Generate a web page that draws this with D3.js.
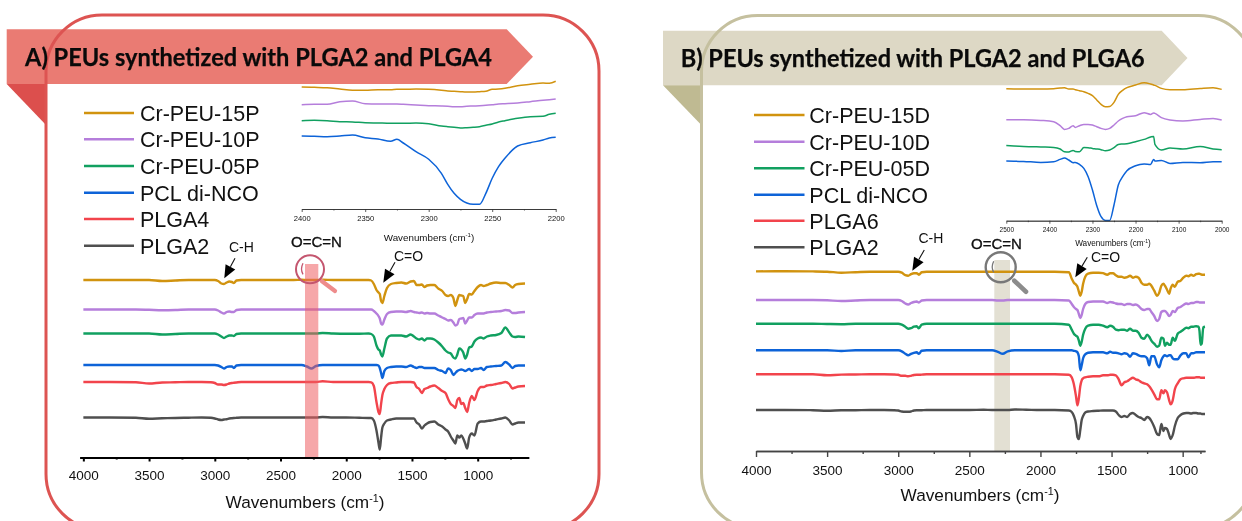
<!DOCTYPE html>
<html>
<head>
<meta charset="utf-8">
<script src="https://cdnjs.cloudflare.com/ajax/libs/d3/7.8.5/d3.min.js"></script>
<style>
  html, body { margin: 0; padding: 0; background: #fff; overflow: hidden; }
  svg { display: block; filter: blur(0.45px); }
  text { font-family: "Liberation Sans", Arial, sans-serif; fill: #111; }
  .title { font-family: Lato, sans-serif; font-weight: 700; fill: #0a0a0a; stroke: #0a0a0a; stroke-width: 0.25; }
</style>
</head>
<body>
<svg id="chart" width="1242" height="521"></svg>
<script>
// ---- data. Spectra are relative to their own baseline (a.u.)
var colors15 = "#d1930f", colors10 = "#b57edb", colors05 = "#11a060",
    colorsPcl = "#0d63d8", colorsLow = "#f2444c", colorsPlga2 = "#4f4f4f";

var mainTicks = [4000, 3500, 3000, 2500, 2000, 1500, 1000],
    minorTicksA = [3750, 3250, 2750, 2250, 1750, 1250, 750],
    minorTicksB = [3750, 3250, 2750, 2250, 1750, 1250, 875];

// panel A
var namesA = ["Cr-PEU-15P", "Cr-PEU-10P", "Cr-PEU-05P", "PCL di-NCO", "PLGA4", "PLGA2"];
var offsetsA = [177.5, 148, 124, 92.5, 75.5, 40];
var waveA = [
  4000,3800,3600,3500,3400,3300,3200,3100,3030,3000,
  2975,2950,2930,2910,2890,2870,2855,2835,2800,2700,
  2500,2400,2340,2300,2265,2230,2180,2100,2000,1900,
  1830,1810,1790,1770,1755,1745,1735,1725,1710,1690,
  1660,1620,1580,1545,1510,1485,1465,1445,1425,1405,
  1385,1360,1330,1300,1270,1245,1225,1205,1185,1170,
  1155,1140,1125,1110,1095,1080,1065,1045,1025,1000,
  975,955,930,900,860,820,790,760,735,715,
  690,640];
var a15P = [
  0,0,0,0,-1,-0.5,0,0,0,0,
  -1,-3.5,-4,-2.5,-1.5,-2,-3,-0.5,0,0,
  0,0,0.2,0,0,0,0.3,0,0,0,
  0,-0.5,-4,-10,-12.5,-14,-21,-23,-16,-8,
  -4,-3,-2.5,-3.5,-1.5,-1,-5,-5,-4.5,-7,
  -5.5,-5,-5,-8.5,-11,-15,-16,-15,-18,-26,
  -20,-15,-15.5,-16,-23,-19,-14,-14.5,-11,-7,
  -5,-6,-5,-3.5,-2.5,-3,-3,-5,-7.5,-5,
  -4,-3.5];
var a10P = [
  0,0,0,-0.3,-0.7,-0.5,0,0,0,0,
  -1,-3,-4,-2.5,-2,-2.5,-2.5,-0.5,0,0,
  0,0,0,0,0,0,0,0,0,0,
  0,0,-1.5,-4,-6.5,-9,-14,-15,-10,-4.5,
  -2.5,-2,-2,-2.5,-1.5,-2.5,-3,-3.5,-3,-4,
  -3.5,-4,-4,-6,-8,-9.5,-11,-10.5,-13,-16,
  -15,-9.5,-9,-8.5,-14,-11,-8,-8,-5.5,-4,
  -4,-4,-3,-2.5,-2,-1.5,-0.5,-1,-3.5,-3.5,
  -3,-2.5];
var a05P = [
  0,0,0,0,-1,-0.5,0,0,0,0,
  -1,-3,-4.5,-3,-2,-2,-2.5,-0.5,0,0,
  0,0,0,0,0,0,0.5,0,-0.3,-0.3,
  0,-0.5,-3,-12,-16,-17,-21,-23,-15,-5,
  -2,-2,-2,-3,-1,-3,-5,-6,-5,-7,
  -5,-5,-6,-9,-13,-17,-19,-20,-24,-25,
  -21,-15,-16,-19,-25,-21,-14,-13,-8,-5,
  -4,-5,-3,-2,-1.5,0.5,6,1,-3,-3.5,
  -3,-3.5];
var aPcl = [
  0,0,0,0,0,0,0,0,0,0,
  -0.5,-2,-3.5,-2,-1.5,-1.5,-3,-0.5,0,0,
  0,0,0,-1.5,-3.5,-1,0,0,0,0,
  0,0,0,0,-0.5,-3,-8,-13,-6,-3,
  -2,-1.5,-1.5,-2,-0.5,-2,-3,-2,-2,-3,
  -3,-3,-3,-5,-6,-8,-3.5,-5,-10,-8,
  -6,-5,-4.5,-5,-6,-5,-4,-6,-4,-4,
  -3,-5,-2,-1.5,-1,-0.5,3,0.5,-3,-1,
  -0.5,-0.5];
var aPlga4 = [
  0,0,-0.3,-1.5,-0.5,-0.3,0,0,-0.3,-1,
  -2.5,-2.5,-3,-2.5,-1.5,-1,-0.8,-0.5,0,0,
  0,0,0,0,0,0,0.7,0,0,0,
  0,-0.3,-4,-20,-30,-32,-22,-13,-7,-3,
  -1,-0.5,0,0,0,-0.5,-5,-7,-11,-7,
  -6,-4.5,-3.5,-6,-9,-11,-17,-22,-24,-26,
  -18,-16,-22,-21,-26,-30,-21,-14,-18,-9,
  -5,-5,-3.5,-3,-2,-1,0,-2,-6.5,-5.5,
  -4.5,-4];
var aPlga2 = [
  0,0,-0.3,-1.3,-0.8,-0.5,-0.2,0,-0.3,-1,
  -2,-2.5,-2,-1.7,-1,-0.7,-0.5,-0.3,0,0,
  0,0,0,0,0,0,0.5,0,0,-0.3,
  -0.5,-0.5,-3,-13,-25,-32,-20,-10,-6,-3,
  -2,-1,-1,-1,-1,-1,-5,-7,-11,-8,
  -6,-4.5,-4,-7,-9,-12,-14,-19,-23,-26,
  -18,-20,-18,-21,-26,-31,-20,-16,-18,-6,
  -4,-4,-3.5,-3,-2,-1,0,-3,-7,-6,
  -5,-5];

// panel A inset (2400-2200)
var insetTicksA = [2400, 2350, 2300, 2250, 2200], insetMinorA = [2375, 2325, 2275, 2225];
var insetWaveA = [2400,2390,2380,2370,2360,2350,2340,2330,2325,2320,2310,2300,2290,2285,
  2280,2275,2270,2265,2260,2255,2250,2245,2240,2230,2220,2210,2205,2200];
var inA15 = [122,121.7,121.3,120,118.7,118.7,119.3,119.3,119.7,119.7,120,119.7,118.7,118,
  117.7,117.3,117,117,117.3,117.7,119.7,120,120.7,123.3,124.7,126,125.7,127.7];
var inA10 = [104.3,104.7,104.7,107.3,108,105.3,105,105,105,104.7,104,103.3,103,102.7,
  102.3,102.3,102.7,103,103.3,103.7,104.3,105,105.3,106,107.3,108.7,109.3,110];
var inA05 = [88.3,88.7,88.3,87.3,87,86.3,86,85.7,85.7,85.7,86,85.3,83,82.3,
  81.7,81,81.3,81.7,82.3,83.7,85,87,88.3,90.7,92.3,92.7,94.7,95.7];
var inAPcl = [73,72.7,72.3,73,74,71.3,70,67.7,69.7,66,57.3,49.7,35.7,24.7,
  15.7,9.7,6,4.7,4.7,15.7,30.7,42.3,50.7,63,66.3,69,71,71.7];

// panel B
var namesB = ["Cr-PEU-15D", "Cr-PEU-10D", "Cr-PEU-05D", "PCL di-NCO", "PLGA6", "PLGA2"];
var offsetsB = [179.3, 151, 127.3, 100.7, 76.7, 41];
var waveB = [
  4000,3800,3600,3500,3400,3300,3200,3100,3030,3000,
  2975,2950,2930,2910,2890,2870,2855,2835,2800,2700,
  2500,2400,2340,2300,2265,2230,2180,2100,2000,1900,
  1800,1780,1765,1750,1740,1730,1720,1710,1700,1685,
  1665,1630,1590,1560,1530,1510,1490,1470,1450,1430,
  1410,1390,1370,1350,1330,1310,1290,1270,1250,1235,
  1220,1200,1180,1165,1150,1135,1125,1110,1095,1085,
  1070,1055,1035,1015,995,975,960,940,925,905,
  890,882,874,866,855,843];
var b15D = [
  0.3,0.5,0.3,0,-1,-0.5,0,0,0,0,
  -1,-3.5,-4,-2.5,-1.5,-1.5,-3,-0.5,0,0,
  0,0,0,0,0,0,0,0,0,0,
  -0.5,-7,-11,-13,-15,-20,-24,-20,-12,-5,
  -2,-1,-1,-1.5,-3,-1.5,-1.5,-3.5,-5,-5,
  -6,-5.5,-4,-6,-5,-6,-11,-13,-13,-12,
  -14,-19,-24,-21,-14,-12,-14,-18,-22,-17,
  -13,-15,-10,-9,-6,-4,-4.5,-3,-4,-2.5,
  -2,-2,-2.5,-3,-3,-3];
var b10D = [
  0,0,0,-0.3,-1,-0.5,0,0,0,0,
  -1,-3.5,-4.5,-3,-2,-1.5,-2.5,-0.5,0,0,
  0,0,0,-0.5,-0.5,0,0,0,0,0,
  -0.5,-4,-7,-9,-10,-14,-18,-15,-9,-4,
  -2,-1.5,-1.5,-1.5,-3,-2,-2.5,-3.5,-4,-4,
  -5,-4,-4,-5,-4.5,-6,-9,-10,-9,-9,
  -12,-16,-21,-19,-12,-11,-11,-13,-16,-15,
  -11,-12,-8,-7,-5,-3.5,-4,-3,-3,-2,
  -2,-2.5,-2.5,-2.5,-2.5,-2.5];
var b05D = [
  0,0,0,-0.3,-0.5,0,0,0,0,0,
  -1,-3,-5,-4.5,-3,-2.5,-4.5,-1,0,0,
  0,0,0,0,0,0,0,0,0,0,
  -1,-6,-10,-12,-13,-17,-22,-18,-11,-5,
  -2,-1,-1,-2,-3.5,-2,-3,-6,-6.5,-6,
  -6,-7,-5,-7,-7,-9,-14,-15,-11,-13,
  -17,-20,-23,-22,-14,-15,-22,-19,-21,-21,
  -14,-17,-10,-8,-6,-4,-4.5,-3,-3,-2.5,
  -3,-7,-21,-20,-3.5,-3];
var bPcl = [
  0,0,0,0,-0.7,0,0,0,0,0,
  -1,-3.5,-5,-3.5,-2.5,-2,-3.5,-0.5,0,0,
  0,0,0,-1.5,-3.5,-1,0,0,0,0,
  0,0,-0.5,-1,-2,-6,-20,-15,-8,-4,
  -2.5,-2,-2,-2,-3,-1.5,-2.5,-2.5,-3,-4,
  -3,-3.5,-6.5,-3,-3.5,-5,-6,-6,-8,-15,
  -6,-6,-14,-17,-10,-6,-5,-6,-5,-5,
  -8,-9,-9,-5,-3,-3,-7,-3,-3,-2,
  -2,-2,-2,-2,-2,-2];
var bPlga6 = [
  0,0,0,-1,-0.3,-0.2,0,0,-0.2,-0.5,
  -1.5,-1.5,-2,-1.5,-0.7,-0.5,-0.5,-0.3,0,0,
  0,0,0,0,0,0,0,0,0,0,
  -0.5,-3,-10,-22,-31,-24,-12,-6,-4,-3,
  -2.5,-2,-2,-1,-1,-0.5,-0.5,-1,-5,-11,
  -8,-7,-5,-3.5,-5,-6,-8,-9,-10,-12,
  -15,-20,-25,-25,-16,-19,-16,-18,-26,-30,
  -26,-15,-9,-5,-4,-3.5,-3.5,-3.5,-3.5,-3,
  -3,-3,-3.5,-3.5,-3.5,-3.5];
var bPlga2 = [
  0,0,-0.2,-0.7,-0.3,-0.2,0,0,-0.2,-0.5,
  -1.5,-1.8,-1.8,-1.5,-0.5,-0.3,-0.3,-0.2,0,0,
  0,0.3,0,0,0,0,0.5,0.3,0,0,
  -0.5,-2,-6,-14,-27,-29,-20,-10,-6,-2.5,
  -1.5,-1,-0.7,-0.5,-0.5,-0.5,-0.5,-1.5,-5,-7,
  -6,-7,-4,-3,-5,-7,-8,-10,-7,-8,
  -11,-17,-24,-25,-14,-21,-18,-19,-25,-29,
  -25,-16,-8,-5,-3.5,-3,-3,-3.5,-3,-3,
  -3.5,-3.5,-3.5,-4,-4,-4];

// panel B inset (2500-2000)
var insetTicksB = [2500, 2400, 2300, 2200, 2100, 2000], insetMinorB = [2450, 2350, 2250, 2150, 2050];
var insetWaveB = [2500,2460,2420,2390,2375,2365,2355,2345,2340,2330,2320,2310,2300,2290,2280,2270,
  2260,2250,2240,2230,2220,2200,2180,2165,2158,2155,2140,2120,2090,2050,2020,2000];
var inB15 = [132,131.7,131.7,132,132.7,133,131.7,131.7,131,130,129,127.3,125,120.7,116.3,114,
  114.3,118.3,126.3,130.3,133,135.7,138,136.7,135.7,135.3,132.3,131,131,132.3,133,131.3];
var inB10 = [101,101,100.3,99,95,91.3,92.3,95,93.3,95,96.3,96.3,95.7,94,92.3,91.3,
  92.3,95.7,99.7,102.3,104,105,108,106.3,107.7,107.3,103,100.7,99.7,101.3,102.3,100.7];
var inB05 = [75.3,74.3,73.7,73.3,71.7,69,68.7,70.3,69.3,69,73.3,73,72.3,71.7,71,70,
  70.7,73,76.3,76.7,77,79,81.3,83.7,84.3,76.3,70.7,72.7,71.7,74.3,71.7,71];
var inBPcl = [59.7,59.3,58.3,59,61.3,62.7,60.7,58,58.3,56.3,52.3,44,30.7,15,4,0.3,
  0.3,15.7,35.7,44,50,55,56.7,56.3,61.3,59.7,60.3,57.3,58.3,58,59,59];

var lineColors = [colors15, colors10, colors05, colorsPcl, colorsLow, colorsPlga2];

var svg = d3.select("#chart");

// layout of the two panels
var panelA = {
  title: "A) PEUs synthetized with PLGA2 and PLGA4", titleX: 25, titleY: 65.5, titleLen: 467,
  banner: [[6.7,29.3],[506.7,29.3],[533,56.7],[506.7,84],[6.7,84]], bannerFill: "#ea7b73",
  fold: [[6.7,84],[46,84],[46,125]], foldFill: "#dc4f4d",
  frame: {x: 46, y: 15, w: 553, h: 515, r: 56}, frameStroke: "#dd5452",
  names: namesA, legendLineX: [84, 134], legendTextX: 140, legendY: [113, 139.3, 166, 192.7, 219, 245.7],
  wave: waveA, series: [a15P, a10P, a05P, aPcl, aPlga4, aPlga2], offsets: offsetsA,
  xDomain: [4027, 612], xRange: [79.8, 528.7], axisY: 457.5, axisColor: "#000", axisWidth: 2,
  minor: minorTicksA, tickBig: 4, tickSmall: 2, tickLabelPad: 9,
  labelX: 305, labelY: 507.7,
  band: {x: 305, w: 13.3, y: 264, fill: "#ef5e62", opacity: 0.55, overLines: true},
  glass: {cx: 310, cy: 269.3, r: 14, stroke: "#c4566f", sw: 2, handle: [321.7,281,335,291], handleStroke: "#ee8c8c", hw: 4.2},
  inset: {wave: insetWaveA, series: [inA15, inA10, inA05, inAPcl], ticks: insetTicksA, minor: insetMinorA,
    domain: [2400, 2200], range: [301.7, 555.7], axisY: 209, fontSize: 7.6, labelSize: 9.8, labelX: 429, labelY: 240.7, pad: 5},
  notes: [
    {text: "C-H", x: 229, y: 251.7, size: 14, from: [235,258.3], to: [224.3,278.3]},
    {text: "C=O", x: 394, y: 261, size: 14, from: [395,262.3], to: [383.3,282.7]},
    {text: "O=C=N", x: 291, y: 246.5, size: 15, bold: true}
  ]
};
var panelB = {
  title: "B) PEUs synthetized with PLGA2 and PLGA6", titleX: 680.7, titleY: 67, titleLen: 464,
  banner: [[663,30.7],[1161.7,30.7],[1187.5,58],[1161.7,85.3],[663,85.3]], bannerFill: "#ddd8c5",
  fold: [[663,85.3],[701.3,85.3],[701.3,125]], foldFill: "#bfba92",
  frame: {x: 701.5, y: 15.5, w: 553, h: 513, r: 56}, frameStroke: "#c5c09f",
  names: namesB, legendLineX: [754, 804.5], legendTextX: 809.3, legendY: [115, 141.7, 168.3, 194.7, 220.7, 247.3],
  wave: waveB, series: [b15D, b10D, b05D, bPcl, bPlga6, bPlga2], offsets: offsetsB,
  xDomain: [4000, 843], xRange: [756, 1205], axisY: 451, axisColor: "#444", axisWidth: 1.4,
  minor: minorTicksB, tickBig: 6, tickSmall: 3, tickLabelPad: 8,
  labelX: 980, labelY: 500.7,
  band: {x: 994.3, w: 15.7, y: 260, fill: "#e3e0d3", opacity: 1, overLines: false},
  glass: {cx: 1000.7, cy: 267.3, r: 15, stroke: "#787878", sw: 2.4, handle: [1014.3,280.7,1026,291.7], handleStroke: "#8c8c8c", hw: 4.6},
  inset: {wave: insetWaveB, series: [inB15, inB10, inB05, inBPcl], ticks: insetTicksB, minor: insetMinorB,
    domain: [2500, 2000], range: [1006.3, 1221.7], axisY: 220.7, fontSize: 6.5, labelSize: 8.2, labelX: 1113, labelY: 245.7, pad: 5},
  notes: [
    {text: "C-H", x: 918.4, y: 242.7, size: 14, from: [924.3,250], to: [912.3,270.7]},
    {text: "C=O", x: 1091, y: 262.3, size: 14, from: [1087.3,257.3], to: [1075.3,277.3]},
    {text: "O=C=N", x: 971, y: 249.3, size: 15, bold: true}
  ]
};

function pointsToString(pts) {
  return pts.map(function(p) { return p.join(","); }).join(" ");
}

// wavenumber label with the -1 raised
function axisLabel(g, x, y, size) {
  var t = g.append("text").attr("x", x).attr("y", y)
    .attr("text-anchor", "middle").attr("font-size", size);
  t.append("tspan").text("Wavenumbers (cm");
  t.append("tspan").attr("dy", -size * 0.35).attr("font-size", size * 0.62).text("-1");
  t.append("tspan").attr("dy", size * 0.35).text(")");
}

function drawAxis(g, x, cfg) {
  var minorAxis = d3.axisBottom(x).tickValues(cfg.minor).tickSize(cfg.tickSmall).tickFormat("").tickSizeOuter(0);
  var majorAxis = d3.axisBottom(x).tickValues(cfg.ticks).tickSize(cfg.tickBig).tickPadding(cfg.pad)
    .tickFormat(d3.format("d")).tickSizeOuter(0);
  var a = g.append("g").attr("transform", "translate(0," + cfg.axisY + ")");
  a.append("g").call(minorAxis);
  a.append("g").call(majorAxis);
  a.selectAll("path,line").attr("stroke", cfg.axisColor).attr("stroke-width", cfg.axisWidth);
  a.selectAll("text").attr("font-size", cfg.fontSize).attr("fill", "#111")
    .style("font-family", '"Liberation Sans", Arial, sans-serif');
}

function drawArrow(g, from, to) {
  var dx = to[0] - from[0], dy = to[1] - from[1], len = Math.sqrt(dx * dx + dy * dy);
  var ux = dx / len, uy = dy / len, hl = 13, hw = 5.5;
  var bx = to[0] - ux * hl, by = to[1] - uy * hl;
  g.append("line").attr("x1", from[0]).attr("y1", from[1]).attr("x2", bx).attr("y2", by)
    .attr("stroke", "#111").attr("stroke-width", 1.1);
  g.append("polygon").attr("fill", "#000")
    .attr("points", pointsToString([to, [bx - uy * hw, by + ux * hw], [bx + uy * hw, by - ux * hw]]));
}

function drawPanel(p) {
  var g = svg.append("g");

  // banner first, frame goes over it
  g.append("polygon").attr("points", pointsToString(p.banner)).attr("fill", p.bannerFill);
  g.append("polygon").attr("points", pointsToString(p.fold)).attr("fill", p.foldFill);
  g.append("rect").attr("x", p.frame.x).attr("y", p.frame.y).attr("width", p.frame.w).attr("height", p.frame.h)
    .attr("rx", p.frame.r).attr("ry", p.frame.r).attr("fill", "none")
    .attr("stroke", p.frameStroke).attr("stroke-width", 3);
  g.append("text").attr("class", "title").attr("x", p.titleX).attr("y", p.titleY)
    .attr("font-size", 25).attr("textLength", p.titleLen).attr("lengthAdjust", "spacingAndGlyphs")
    .text(p.title);

  // legend
  p.names.forEach(function(name, i) {
    g.append("line").attr("x1", p.legendLineX[0]).attr("x2", p.legendLineX[1])
      .attr("y1", p.legendY[i]).attr("y2", p.legendY[i])
      .attr("stroke", lineColors[i]).attr("stroke-width", 2.4);
    g.append("text").attr("x", p.legendTextX).attr("y", p.legendY[i] + 8)
      .attr("font-size", 21.5).text(name);
  });

  // main spectra
  var x = d3.scaleLinear().domain(p.xDomain).range(p.xRange);
  var y = d3.scaleLinear().domain([0, 200]).range([p.axisY, p.axisY - 200]);
  var line = d3.line().curve(d3.curveMonotoneX);

  function band() {
    g.append("rect").attr("x", p.band.x).attr("y", p.band.y).attr("width", p.band.w)
      .attr("height", p.axisY - p.band.y).attr("fill", p.band.fill).attr("opacity", p.band.opacity);
  }
  if (!p.band.overLines) band();

  p.series.forEach(function(values, i) {
    g.append("path").attr("fill", "none").attr("stroke", lineColors[i]).attr("stroke-width", 2.4)
      .attr("stroke-linejoin", "round")
      .attr("d", line(values.map(function(v, j) {
        return [x(p.wave[j]), y(p.offsets[i] + v)];
      })));
  });
  if (p.band.overLines) band();

  drawAxis(g, x, {ticks: mainTicks, minor: p.minor, axisY: p.axisY, tickBig: p.tickBig, tickSmall: p.tickSmall,
    pad: p.tickLabelPad, fontSize: 13.5, axisColor: p.axisColor, axisWidth: p.axisWidth});
  axisLabel(g, p.labelX, p.labelY, 17.2);

  // magnifier
  var m = p.glass;
  g.append("line").attr("x1", m.handle[0]).attr("y1", m.handle[1]).attr("x2", m.handle[2]).attr("y2", m.handle[3])
    .attr("stroke", m.handleStroke).attr("stroke-width", m.hw).attr("stroke-linecap", "round");
  g.append("circle").attr("cx", m.cx).attr("cy", m.cy).attr("r", m.r).attr("fill", "none")
    .attr("stroke", m.stroke).attr("stroke-width", m.sw);
  g.append("path").attr("fill", "none").attr("stroke", m.stroke).attr("stroke-width", 1.3)
    .attr("d", "M" + (m.cx - 7) + "," + (m.cy - 6) + "Q" + (m.cx - 10) + "," + m.cy + " " + (m.cx - 7) + "," + (m.cy + 5));

  // inset
  var ins = p.inset;
  var ix = d3.scaleLinear().domain(ins.domain).range(ins.range);
  var iy = d3.scaleLinear().domain([0, 140]).range([ins.axisY, ins.axisY - 140]);
  ins.series.forEach(function(values, i) {
    g.append("path").attr("fill", "none").attr("stroke", lineColors[i]).attr("stroke-width", 1.5)
      .attr("d", line(values.map(function(v, j) {
        return [ix(ins.wave[j]), iy(v)];
      })));
  });
  drawAxis(g, ix, {ticks: ins.ticks, minor: ins.minor, axisY: ins.axisY, tickBig: 3, tickSmall: 1.5,
    pad: 4, fontSize: ins.fontSize, axisColor: "#333", axisWidth: 0.8});
  axisLabel(g, ins.labelX, ins.labelY, ins.labelSize);

  // peak notes
  p.notes.forEach(function(n) {
    g.append("text").attr("x", n.x).attr("y", n.y).attr("font-size", n.size)
      .attr("stroke", n.bold ? "#111" : "none").attr("stroke-width", n.bold ? 0.35 : 0).text(n.text);
    if (n.from) drawArrow(g, n.from, n.to);
  });
}

drawPanel(panelA);
drawPanel(panelB);
</script>
</body>
</html>
